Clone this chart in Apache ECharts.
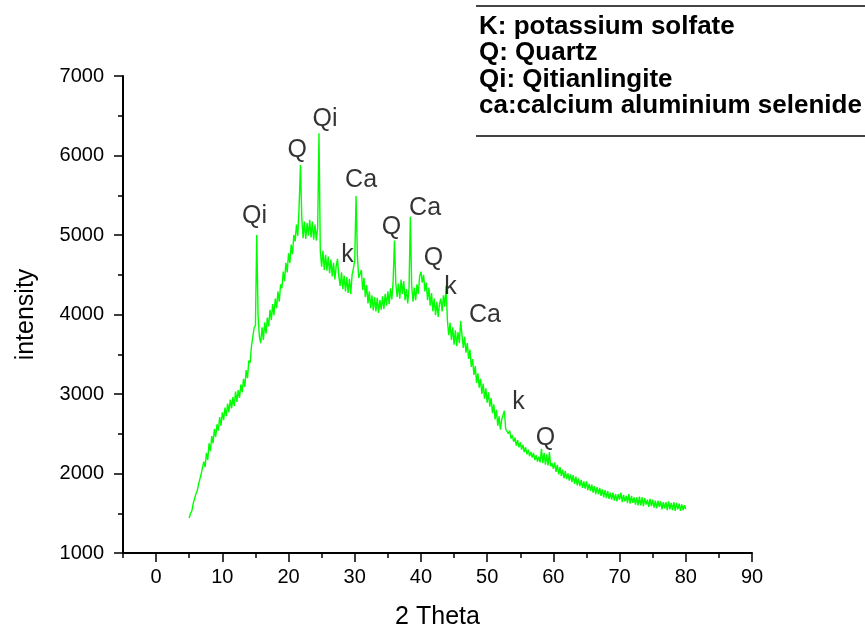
<!DOCTYPE html>
<html>
<head>
<meta charset="utf-8">
<script src="https://cdn.jsdelivr.net/npm/echarts@6/dist/echarts.min.js"></script>
<style>
  html, body { margin: 0; padding: 0; background: #fff; }
  #chart { width: 865px; height: 635px; }
</style>
</head>
<body>
<div id="chart"></div>
<script>
// XRD scan: 2θ from 5° to 80° in 0.2° steps
const THETA_START = 5;
const THETA_STEP = 0.2;
const intensity = [
  1440,1500,1530,1620,1640,1740,1780,1860,1850,1990,
  1990,2150,2080,2260,2170,2380,2280,2470,2380,2560,
  2460,2620,2540,2710,2600,2770,2670,2830,2720,2880,
  2770,2930,2820,2960,2850,3030,2900,3050,2950,3120,
  3020,3190,3090,3300,3200,3420,3390,3600,3600,3830,
  3860,5000,3990,3720,3640,3840,3680,3900,3760,3960,
  3850,4060,3930,4130,3990,4200,4080,4290,4160,4380,
  4330,4540,4420,4650,4530,4770,4650,4880,4760,5000,
  4920,5130,4990,5360,5880,5230,4960,5170,4950,5150,
  4990,5190,4970,5170,4940,5130,4930,5090,6280,4800,
  4600,4800,4560,4750,4550,4730,4520,4690,4480,4650,
  4440,4610,4700,4480,4360,4530,4320,4490,4290,4470,
  4270,4450,4260,4500,4580,4680,5490,4740,4460,4470,
  4560,4310,4460,4220,4370,4140,4290,4080,4240,4050,
  4220,4040,4210,4020,4180,4060,4230,4070,4260,4110,
  4290,4130,4330,4190,4420,4930,4400,4220,4390,4200,
  4440,4260,4420,4180,4320,4140,4330,5230,4360,4160,
  4340,4180,4380,4260,4480,4540,4400,4500,4290,4400,
  4180,4340,4110,4270,4040,4200,3990,4160,3970,4130,
  4200,4040,4240,4100,4360,3920,3740,3900,3680,3840,
  3620,3800,3600,3780,3640,3920,3740,3580,3720,3520,
  3640,3440,3560,3340,3440,3240,3350,3140,3260,3080,
  3190,3000,3130,2940,3070,2890,3020,2840,2950,2760,
  2870,2680,2800,2600,2720,2550,2680,2700,2790,2560,
  2580,2500,2540,2440,2480,2400,2450,2350,2420,2330,
  2390,2300,2360,2270,2330,2240,2300,2220,2270,2200,
  2260,2170,2230,2150,2210,2140,2310,2130,2260,2110,
  2240,2100,2270,2090,2130,2060,2140,2020,2110,1990,
  2080,1970,2050,1940,2030,1930,2000,1910,1990,1890,
  1980,1870,1960,1850,1940,1840,1920,1820,1900,1810,
  1900,1790,1870,1780,1860,1760,1840,1740,1830,1740,
  1820,1720,1800,1700,1790,1690,1780,1680,1760,1670,
  1760,1660,1740,1650,1740,1670,1760,1640,1730,1650,
  1720,1630,1740,1620,1720,1630,1700,1610,1700,1600,
  1710,1600,1700,1590,1690,1610,1670,1580,1680,1590,
  1670,1570,1660,1560,1660,1580,1650,1550,1640,1560,
  1640,1540,1650,1550,1630,1540,1640,1530,1630,1550,
  1620,1530,1610,1540,1600,1550
];

// Phase labels placed above their reflections (2θ, intensity of the label centre)
const peakLabels = ['Qi', 'Q', 'Qi', 'k', 'Ca', 'Q', 'Ca', 'Q', 'k', 'Ca', 'k', 'Q'];
const peakLabelTheta = [14.87, 21.30, 25.52, 28.92, 30.96, 35.56, 40.62, 41.91, 44.47, 49.68, 54.74, 58.82];
const peakLabelIntensity = [5241, 6064, 6463, 4748, 5696, 5104, 5341, 4705, 4349, 3994, 2903, 2447];

// Phase key
const legendLines = [
  'K: potassium solfate',
  'Q: Quartz',
  'Qi: Qitianlingite',
  'ca:calcium aluminium selenide'
];

// Axis ticks
const xMajorTicks = [0, 10, 20, 30, 40, 50, 60, 70, 80, 90];
const yTicks = [1000, 2000, 3000, 4000, 5000, 6000, 7000];

const FONT = '"Liberation Sans", Arial, Helvetica, sans-serif';

const scan = intensity.map((v, i) => [+(THETA_START + i * THETA_STEP).toFixed(2), v]);
const labelPoints = peakLabels.map((t, i) => [peakLabelTheta[i], peakLabelIntensity[i], t]);

const chart = echarts.init(document.getElementById('chart'), null, { renderer: 'canvas' });

const axisLineStyle = { color: '#000', width: 2 };
const tickStyle = { color: '#000', width: 1.5 };

chart.setOption({
  animation: false,
  backgroundColor: '#fff',
  grid: { left: 123, right: 113, top: 76, bottom: 78, containLabel: false },
  xAxis: [
    {
      // axis line, 5° short ticks and the 10° labels
      type: 'value',
      min: -5,
      max: 90,
      interval: 5,
      name: '2 Theta',
      nameLocation: 'middle',
      nameGap: 52,
      nameTextStyle: { fontFamily: FONT, fontSize: 25, color: '#000' },
      axisLine: { show: true, onZero: false, lineStyle: axisLineStyle },
      axisTick: { show: true, inside: false, length: 5, lineStyle: tickStyle },
      axisLabel: {
        show: true,
        customValues: xMajorTicks,
        margin: 14,
        fontFamily: FONT,
        fontSize: 20,
        color: '#000'
      },
      splitLine: { show: false }
    },
    {
      // long ticks at every 10°
      type: 'value',
      min: -5,
      max: 90,
      position: 'bottom',
      axisLine: { show: false },
      axisTick: { show: true, inside: false, length: 9, customValues: xMajorTicks, lineStyle: tickStyle },
      axisLabel: { show: false },
      splitLine: { show: false }
    }
  ],
  yAxis: {
    type: 'value',
    min: 1000,
    max: 7000,
    interval: 1000,
    name: 'intensity',
    nameLocation: 'middle',
    nameGap: 84,
    nameRotate: 90,
    nameTextStyle: { fontFamily: FONT, fontSize: 25, color: '#000' },
    axisLine: { show: true, onZero: false, lineStyle: axisLineStyle },
    axisTick: { show: true, inside: false, length: 9, customValues: yTicks, lineStyle: tickStyle },
    minorTick: { show: true, splitNumber: 2, length: 5, lineStyle: tickStyle },
    axisLabel: {
      customValues: yTicks,
      formatter: v => String(v),
      margin: 19,
      fontFamily: FONT,
      fontSize: 20,
      color: '#000'
    },
    splitLine: { show: false },
    minorSplitLine: { show: false }
  },
  series: [
    {
      type: 'line',
      data: scan,
      xAxisIndex: 0,
      showSymbol: false,
      symbol: 'none',
      lineStyle: { color: '#00ff00', width: 1.4 },
      silent: true,
      z: 2
    },
    {
      type: 'scatter',
      data: labelPoints,
      xAxisIndex: 0,
      symbolSize: 0,
      silent: true,
      label: {
        show: true,
        position: 'inside',
        formatter: p => p.data[2],
        fontFamily: FONT,
        fontSize: 25,
        color: '#000',
        textBorderWidth: 0
      },
      z: 3
    }
  ],
  graphic: [
    {
      type: 'line',
      shape: { x1: 476, y1: 6, x2: 865, y2: 6 },
      style: { stroke: '#444', lineWidth: 2 },
      silent: true
    },
    {
      type: 'line',
      shape: { x1: 476, y1: 136, x2: 865, y2: 136 },
      style: { stroke: '#444', lineWidth: 2 },
      silent: true
    }
  ].concat(legendLines.map((line, i) => ({
    type: 'text',
    left: 479,
    top: 14 + i * 26.2,
    silent: true,
    style: {
      text: line,
      font: 'bold 26px ' + FONT,
      fill: '#000'
    }
  })))
});
</script>
</body>
</html>
